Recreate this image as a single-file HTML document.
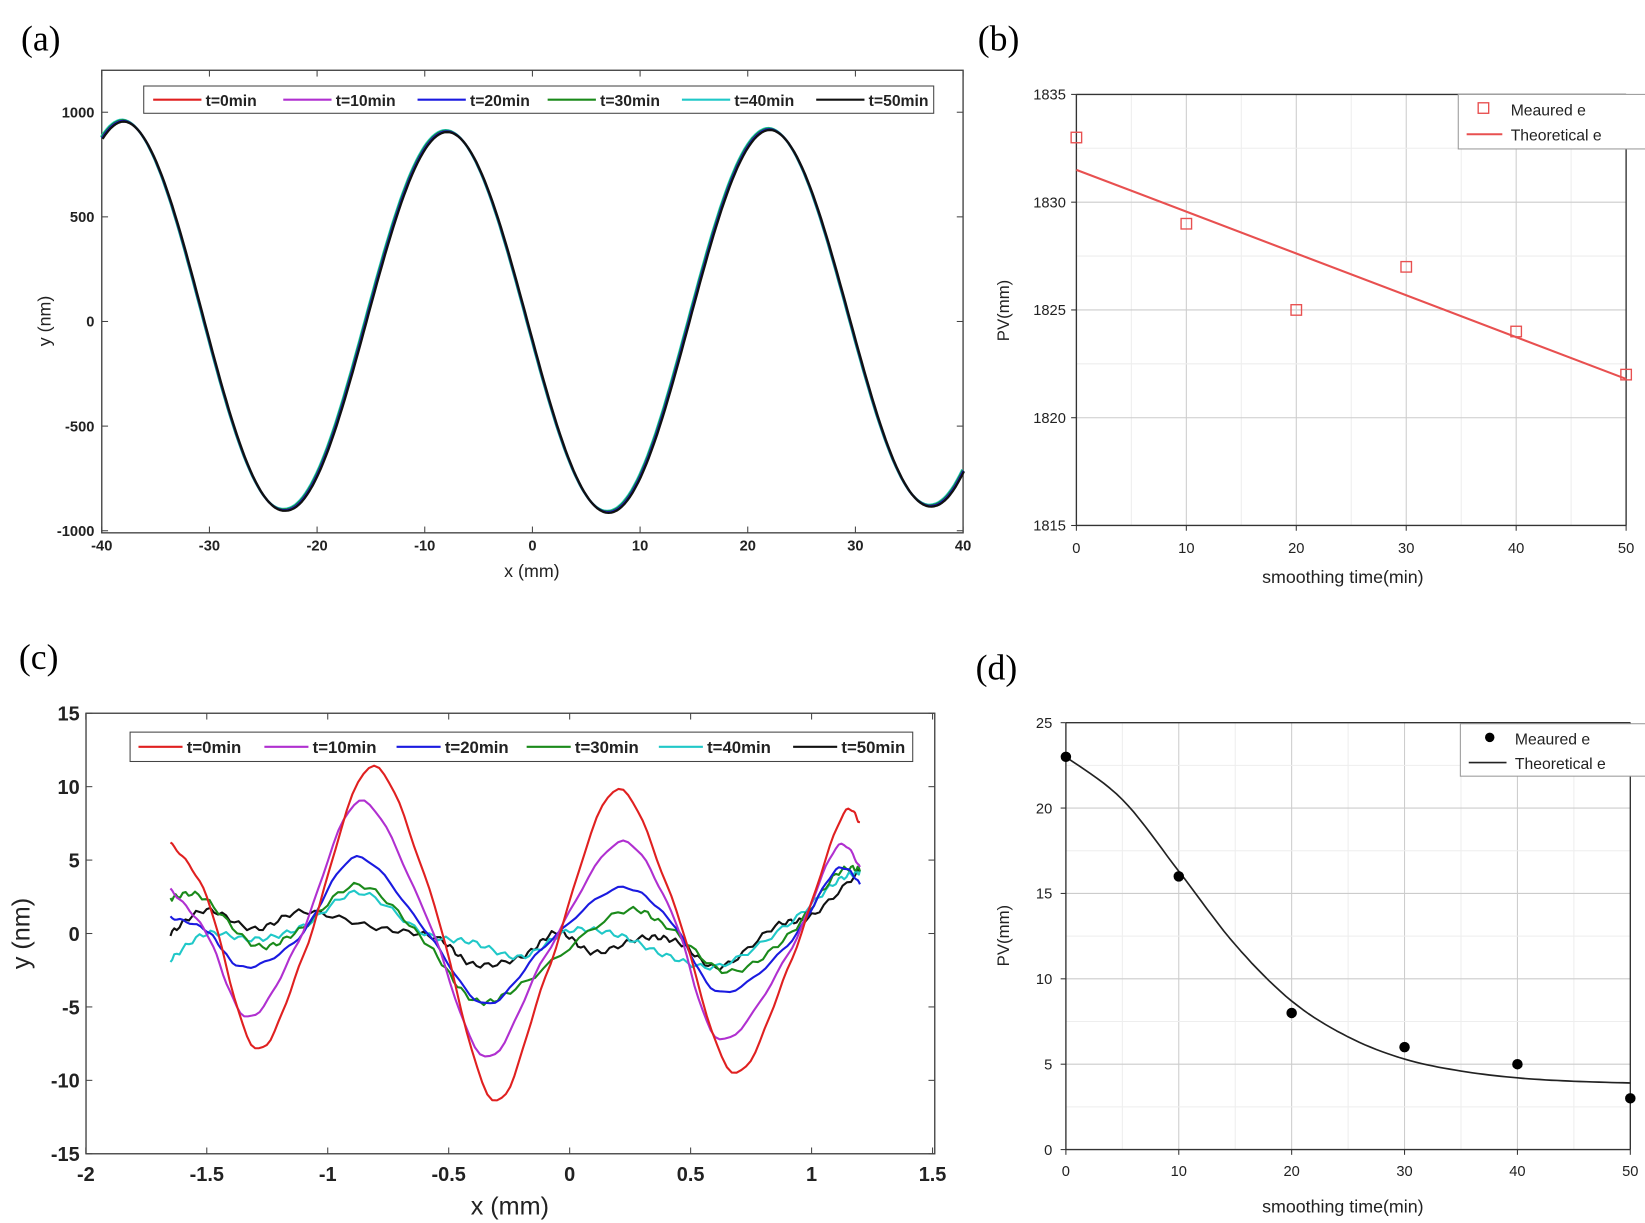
<!DOCTYPE html>
<html><head><meta charset="utf-8"><style>
html,body{margin:0;padding:0;background:#fff;}
svg{display:block;}
text{font-family:"Liberation Sans",Arial,sans-serif;}
.pl{font-family:"Liberation Serif",serif;font-size:34px;}
</style></head><body>
<svg id="s" width="1645" height="1223" viewBox="0 0 1568 1166" preserveAspectRatio="none" xmlns="http://www.w3.org/2000/svg">
<rect width="1568" height="1166" fill="#fff"/>
<text class="pl" x="20" y="48">(a)</text>
<text class="pl" x="932" y="48">(b)</text>
<text class="pl" x="18" y="638">(c)</text>
<text class="pl" x="930" y="648">(d)</text>
<g id="g"></g>
</svg>
<script>
var g=document.getElementById('g'),o='';
function L(x1,y1,x2,y2,c,w,extra){o+='<line x1="'+x1+'" y1="'+y1+'" x2="'+x2+'" y2="'+y2+'" stroke="'+c+'" stroke-width="'+(w||1)+'" '+(extra||'')+'/>';}
function T(x,y,t,s,a,extra){o+='<text x="'+x+'" y="'+y+'" font-size="'+s+'" text-anchor="'+(a||'middle')+'" '+(extra||'')+'>'+t+'</text>';}
function P(pts,c,w){var d='M'+pts.map(function(p){return p[0].toFixed(1)+','+p[1].toFixed(1)}).join('L');o+='<path d="'+d+'" fill="none" stroke="'+c+'" stroke-width="'+(w||2)+'" stroke-linejoin="round"/>';}
function cr(cp,n){var r=[];for(var i=0;i<cp.length-1;i++){var p0=cp[Math.max(0,i-1)],p1=cp[i],p2=cp[i+1],p3=cp[Math.min(cp.length-1,i+2)];for(var k=0;k<n;k++){var t=k/n,t2=t*t,t3=t2*t;r.push([0.5*(2*p1[0]+(-p0[0]+p2[0])*t+(2*p0[0]-5*p1[0]+4*p2[0]-p3[0])*t2+(-p0[0]+3*p1[0]-3*p2[0]+p3[0])*t3),0.5*(2*p1[1]+(-p0[1]+p2[1])*t+(2*p0[1]-5*p1[1]+4*p2[1]-p3[1])*t2+(-p0[1]+3*p1[1]-3*p2[1]+p3[1])*t3)]);}}r.push(cp[cp.length-1]);return r;}
// ===== (a)
var ax0=97,ax1=918,ay0=67,ay1=508;
function axX(x){return ax0+(x+40)*(ax1-ax0)/80;}function axY(y){return 306.5-y*0.1995;}
o+='<rect x="'+ax0+'" y="'+ay0+'" width="'+(ax1-ax0)+'" height="'+(ay1-ay0)+'" fill="none" stroke="#444" stroke-width="1.3"/>';
for(var v=-40;v<=40;v+=10){var x=axX(v);L(x,ay1,x,ay1-6,'#444');L(x,ay0,x,ay0+6,'#444');T(x,525,v,14,'middle','font-weight="bold" fill="#222"');}
for(var v=-1000;v<=1000;v+=500){var y=axY(v);L(ax0,y,ax0+6,y,'#444');L(ax1,y,ax1-6,y,'#444');T(90,y+5,v,14,'end','font-weight="bold" fill="#222"');}
T(507,550,'x (mm)',17,'middle','fill="#222"');T(48,306,'y (nm)',17,'middle','fill="#222" transform="rotate(-90 48 306)"');
var cols=['#e02020','#b030d0','#1a1ae0','#1a8a1a','#20c8c8','#111'];
var labs=['t=0min','t=10min','t=20min','t=30min','t=40min','t=50min'];
function amp(x){var pk=[[-38,960],[-23,900],[-8,910],[7,910],[22,920],[37,880]];if(x<=pk[0][0])return 960;for(var i=0;i<pk.length-1;i++){if(x<=pk[i+1][0]){var f=(x-pk[i][0])/(pk[i+1][0]-pk[i][0]);return pk[i][1]+f*(pk[i+1][1]-pk[i][1]);}}return 880;}
var sa=[];for(var x=-40;x<=40.01;x+=0.25){sa.push([x,amp(x)*Math.cos(2*Math.PI*(x+8)/30)]);}
[4,3,2,5].forEach(function(ci,k){P(sa.map(function(p){return [axX(p[0])+(k-1.5)*0.5,axY(p[1])+(k-1.5)*0.6]}),cols[ci],2.2);});
o+='<rect x="137" y="82" width="753" height="26" fill="#fff" stroke="#444" stroke-width="1"/>';
var lx=[146,270,398,522,650,778];
for(var i=0;i<6;i++){L(lx[i],95,lx[i]+46,95,cols[i],2);T(lx[i]+50,101,labs[i],15,'start','font-weight="bold" fill="#222"');}
// ===== (b)
var bx0=1026,bx1=1550,by0=90,by1=501;
function bX(t){return bx0+t*(bx1-bx0)/50;}function bY(v){return by0+(1835-v)*(by1-by0)/20;}
for(var t=5;t<50;t+=5)L(bX(t),by0,bX(t),by1,t%10?'#eee':'#ccc',1);
for(var v=1820;v<1835;v+=2.5)L(bx0,bY(v),bx1,bY(v),v%5?'#eee':'#ccc',1);
L(bx0,by0,bx0,by1,'#333',1.3);L(bx0,by1,bx1,by1,'#333',1.3);L(bx0,by0,bx1,by0,'#333',1.3);L(bx1,by0,bx1,by1,'#333',1.3);
for(var t=0;t<=50;t+=10){L(bX(t),by1,bX(t),by1+5,'#333');T(bX(t),527,t,14,'middle','fill="#222"');}
for(var v=1815;v<=1835;v+=5){L(bx0,bY(v),bx0-5,bY(v),'#333');T(1016,bY(v)+5,v,14,'end','fill="#222"');}
T(1280,556,'smoothing time(min)',17,'middle','fill="#222"');T(962,296,'PV(mm)',16,'middle','fill="#222" transform="rotate(-90 962 296)"');
L(bX(0),bY(1831.5),bX(50),bY(1821.8),'#e85050',2);
[[0,1833],[10,1829],[20,1825],[30,1827],[40,1824],[50,1822]].forEach(function(p){o+='<rect x="'+(bX(p[0])-5)+'" y="'+(bY(p[1])-5)+'" width="10" height="10" fill="none" stroke="#e85050" stroke-width="1.3"/>';});
o+='<rect x="1390" y="90" width="180" height="52" fill="#fff" stroke="#999" stroke-width="1"/>';
o+='<rect x="1409" y="98" width="10" height="10" fill="none" stroke="#e85050" stroke-width="1.3"/>';T(1440,110,'Meaured e',15,'start','fill="#222"');
L(1398,128,1432,128,'#e85050',2);T(1440,134,'Theoretical e',15,'start','fill="#222"');
// ===== (c)
var cx0=82,cx1=891,cy0=680,cy1=1100;
function cX(x){return 543+x*230.6;}function cY(y){return 890-y*14;}
o+='<rect x="'+cx0+'" y="'+cy0+'" width="'+(cx1-cx0)+'" height="'+(cy1-cy0)+'" fill="none" stroke="#444" stroke-width="1.3"/>';
for(var v=-2;v<=1.5;v+=0.5){var x=cX(v);L(x,cy1,x,cy1-6,'#444');L(x,cy0,x,cy0+6,'#444');T(x,1126,v,19,'middle','font-weight="bold" fill="#222"');}
for(var v=-15;v<=15;v+=5){var y=cY(v);L(cx0,y,cx0+6,y,'#444');L(cx1,y,cx1-6,y,'#444');T(76,y+7,v,19,'end','font-weight="bold" fill="#222"');}
T(486,1158,'x (mm)',24,'middle','fill="#222"');T(28,890,'y (nm)',24,'middle','fill="#222" transform="rotate(-90 28 890)"');
var C=[
[[-1.65,6.2],[-1.5,2.5],[-1.3,-7.8],[-1.1,-1.5],[-0.83,11.3],[-0.58,3],[-0.32,-11.3],[-0.1,-3],[0.18,9.7],[0.42,2.5],[0.67,-9.4],[0.9,-2.5],[1.12,7.8],[1.2,7.5]],
[[-1.65,3],[-1.5,0],[-1.33,-5.7],[-1.12,-0.5],[-0.87,9],[-0.6,1.5],[-0.35,-8.4],[-0.1,-1.5],[0.2,6.2],[0.42,1.5],[0.62,-7.2],[0.9,-1.5],[1.1,5.8],[1.2,4.5]],
[[-1.65,1.1],[-1.5,0.2],[-1.35,-2.3],[-1.12,-0.3],[-0.88,5.2],[-0.6,0.3],[-0.35,-4.8],[-0.1,-0.8],[0.2,3.1],[0.42,0.8],[0.62,-4],[0.9,-0.8],[1.1,4.3],[1.2,3.4]],
[[-1.65,2.4],[-1.52,2.5],[-1.3,-0.8],[-1.12,0.2],[-0.87,3.3],[-0.6,-0.5],[-0.4,-4.5],[-0.2,-3.5],[0.2,1.4],[0.4,0.5],[0.65,-2.6],[0.9,-0.2],[1.1,4],[1.2,4.4]],
[[-1.65,-1.8],[-1.5,0],[-1.3,-0.4],[-1.1,0.5],[-0.87,2.8],[-0.6,0],[-0.4,-0.6],[-0.2,-1.6],[0,0.2],[0.2,-0.1],[0.4,-1.5],[0.62,-2.2],[0.9,0.6],[1.1,3.5],[1.2,4.2]],
[[-1.65,0],[-1.5,1.6],[-1.3,0.3],[-1.1,1.5],[-0.8,0.4],[-0.55,-0.3],[-0.4,-2.1],[-0.2,-1.6],[-0.05,0.1],[0.1,-1.3],[0.3,-0.3],[0.45,-0.6],[0.62,-2.3],[0.85,0.5],[1.0,1.2],[1.2,4.3]]];
for(var ci=5;ci>=0;ci--){var pts=cr(C[ci],12);var s=ci*7.3;pts=pts.map(function(p,i){return [cX(p[0]),cY(p[1]+(ci>=3?0.18*Math.sin(i*1.7+s):0.08*Math.sin(i*1.3+s)))]});P(pts,cols[ci],2);}
o+='<rect x="124" y="698" width="746" height="28" fill="#fff" stroke="#444" stroke-width="1"/>';
var lc=[132,252,378,502,628,756];
for(var i=0;i<6;i++){L(lc[i],712,lc[i]+42,712,cols[i],2);T(lc[i]+46,718,labs[i],16,'start','font-weight="bold" fill="#222"');}
// ===== (d)
var dx0=1016,dx1=1554,dy0=689,dy1=1096;
function dX(t){return dx0+t*(dx1-dx0)/50;}function dY(v){return dy1-v*(dy1-dy0)/25;}
for(var t=5;t<50;t+=5)L(dX(t),dy0,dX(t),dy1,t%10?'#eee':'#ccc',1);
for(var v=2.5;v<25;v+=2.5)L(dx0,dY(v),dx1,dY(v),v%5?'#eee':'#ccc',1);
L(dx0,dy0,dx0,dy1,'#333',1.3);L(dx0,dy1,dx1,dy1,'#333',1.3);L(dx0,dy0,dx1,dy0,'#333',1.3);L(dx1,dy0,dx1,dy1,'#333',1.3);
for(var t=0;t<=50;t+=10){L(dX(t),dy1,dX(t),dy1+5,'#333');T(dX(t),1121,t,14,'middle','fill="#222"');}
for(var v=0;v<=25;v+=5){L(dx0,dY(v),dx0-5,dY(v),'#333');T(1003,dY(v)+5,v,14,'end','fill="#222"');}
T(1280,1156,'smoothing time(min)',17,'middle','fill="#222"');T(962,892,'PV(mm)',16,'middle','fill="#222" transform="rotate(-90 962 892)"');
var dc=cr([[0,23],[5,20.5],[10,16.3],[15,12],[20,8.7],[25,6.6],[30,5.3],[35,4.6],[40,4.2],[45,4],[50,3.9]],10).map(function(p){return [dX(p[0]),dY(p[1])]});
P(dc,'#222',1.6);
[[0,23],[10,16],[20,8],[30,6],[40,5],[50,3]].forEach(function(p){o+='<circle cx="'+dX(p[0])+'" cy="'+dY(p[1])+'" r="5" fill="#000"/>';});
o+='<rect x="1392" y="690" width="178" height="50" fill="#fff" stroke="#999" stroke-width="1"/>';
o+='<circle cx="1420" cy="703" r="4.5" fill="#000"/>';T(1444,710,'Meaured e',15,'start','fill="#222"');
L(1400,727,1436,727,'#222',1.6);T(1444,733,'Theoretical e',15,'start','fill="#222"');
g.innerHTML=o;
</script>
</body></html>
